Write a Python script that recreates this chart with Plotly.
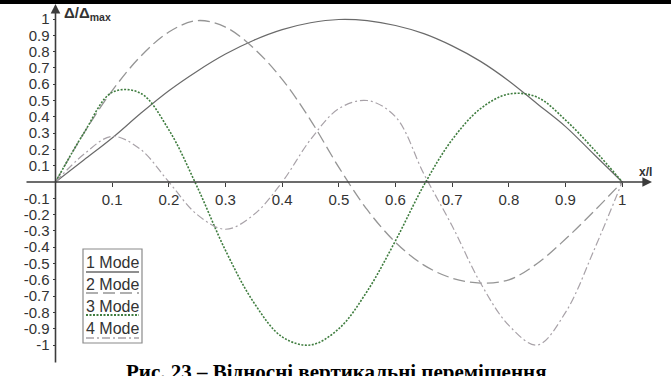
import plotly.graph_objects as go

# Relative coordinate along the span
x_pos = [0.0, 0.05, 0.10, 0.15, 0.20, 0.25, 0.30, 0.35, 0.40, 0.45, 0.50,
         0.55, 0.60, 0.65, 0.70, 0.75, 0.80, 0.85, 0.90, 0.95, 1.0]

# Relative vertical displacements of the first four modes
mode_1 = [0.0, 0.135, 0.27, 0.42, 0.56, 0.68, 0.785, 0.87, 0.935, 0.977, 0.997,
          0.99, 0.96, 0.91, 0.835, 0.74, 0.62, 0.48, 0.34, 0.17, 0.0]
mode_2 = [0.0, 0.30, 0.56, 0.77, 0.92, 0.99, 0.95, 0.82, 0.63, 0.38, 0.09,
          -0.17, -0.37, -0.51, -0.59, -0.62, -0.60, -0.50, -0.35, -0.18, 0.0]
mode_3 = [0.0, 0.30, 0.55, 0.545, 0.32, -0.03, -0.42, -0.74, -0.95, -1.0, -0.90,
          -0.67, -0.36, -0.02, 0.26, 0.45, 0.54, 0.52, 0.38, 0.20, 0.0]
mode_4 = [0.0, 0.17, 0.28, 0.20, 0.0, -0.20, -0.29, -0.20, 0.0, 0.26, 0.45,
          0.50, 0.40, 0.05, -0.27, -0.62, -0.88, -1.0, -0.80, -0.42, 0.0]

mode_names = ["1 Mode", "2 Mode", "3 Mode", "4 Mode"]
x_ticks = [0.1, 0.2, 0.3, 0.4, 0.5, 0.6, 0.7, 0.8, 0.9, 1.0]
y_ticks = [1.0, 0.9, 0.8, 0.7, 0.6, 0.5, 0.4, 0.3, 0.2, 0.1,
           -0.1, -0.2, -0.3, -0.4, -0.5, -0.6, -0.7, -0.8, -0.9, -1.0]

W, H = 671, 376
X0, XS = 55.5, 566.7     # pixel of x=0, pixels per unit x
Y0, YS = 182.0, 163.0    # pixel of y=0, pixels per unit y


def px(v):
    return v / W


def py(v):
    return 1 - v / H


styles = [
    dict(color="#6a6a6a", width=1.2, dash="solid"),
    dict(color="#959595", width=1.3, dash="12px,5px"),
    dict(color="#3f7d3f", width=1.6, dash="2px,1.5px"),
    dict(color="#a8a2a8", width=1.2, dash="8px,3px,2px,3px"),
]

fig = go.Figure()
for name, ys, st in zip(mode_names, [mode_1, mode_2, mode_3, mode_4], styles):
    fig.add_trace(go.Scatter(x=x_pos, y=ys, mode="lines", name=name,
                             line=dict(shape="spline", smoothing=1.0, **st),
                             showlegend=False, hoverinfo="skip"))

axis_col = "#3c3c3c"
sans = "Arial, Liberation Sans, sans-serif"
tick_font = dict(family=sans, size=15, color="#333333")

fig.update_layout(
    width=W, height=H,
    margin=dict(l=0, r=0, t=0, b=0),
    paper_bgcolor="white", plot_bgcolor="white",
    xaxis=dict(range=[-X0 / XS, (W - X0) / XS], showgrid=False, zeroline=False,
               showline=False, anchor="free", position=1 - Y0 / H,
               tickvals=x_ticks, ticktext=[f"{v:g}" for v in x_ticks],
               ticks="outside", ticklen=4, tickcolor=axis_col, tickwidth=1,
               tickfont=tick_font),
    yaxis=dict(range=[-(H - Y0) / YS, Y0 / YS], showgrid=False, zeroline=False,
               showline=False, anchor="free", position=X0 / W,
               tickvals=y_ticks, ticktext=[f"{v:g}" for v in y_ticks],
               ticks="outside", ticklen=3, tickcolor=axis_col, tickwidth=1,
               tickfont=tick_font),
)

# Axis lines with arrowheads
fig.add_annotation(x=(652 - X0) / XS, y=0, ax=(25 - X0) / XS, ay=0,
                   xref="x", yref="y", axref="x", ayref="y", text="",
                   showarrow=True, arrowhead=2, arrowsize=1.2, arrowwidth=1.6,
                   arrowcolor=axis_col)
fig.add_annotation(x=0, y=(Y0 - 4) / YS, ax=0, ay=(Y0 - 364) / YS,
                   xref="x", yref="y", axref="x", ayref="y", text="",
                   showarrow=True, arrowhead=2, arrowsize=1.2, arrowwidth=1.6,
                   arrowcolor=axis_col)

# Axis titles
fig.add_annotation(x=px(62), y=py(2), xref="paper", yref="paper",
                   xanchor="left", yanchor="top", showarrow=False,
                   text="<b>Δ/Δ<sub>max</sub></b>",
                   font=dict(family=sans, size=15, color="#333333"))
fig.add_annotation(x=px(645), y=py(172), xref="paper", yref="paper",
                   xanchor="center", yanchor="middle", showarrow=False,
                   text="<b>x/l</b>",
                   font=dict(family=sans, size=12, color="#333333"))

# Legend box: label above a sample of each line style
fig.add_shape(type="rect", xref="paper", yref="paper",
              x0=px(83), x1=px(142), y0=py(343), y1=py(249),
              line=dict(color="#8a8a8a", width=1.2), fillcolor="white")
label_rows = [262, 284, 306, 328]
line_rows = [272, 293, 315, 338]
for name, st, ly, ry in zip(mode_names, styles, label_rows, line_rows):
    fig.add_annotation(x=px(112), y=py(ly), xref="paper", yref="paper",
                       xanchor="center", yanchor="middle", showarrow=False,
                       text=name, font=dict(family=sans, size=16, color="#333333"))
    fig.add_shape(type="line", xref="paper", yref="paper",
                  x0=px(86), x1=px(139), y0=py(ry), y1=py(ry),
                  line=dict(color=st["color"], width=st["width"] + 0.2, dash=st["dash"]))

# Page rule at the top and the figure caption below
fig.add_shape(type="rect", xref="paper", yref="paper",
              x0=0, x1=1, y0=py(4), y1=1, line=dict(width=0), fillcolor="black")
fig.add_annotation(x=px(336), y=py(358), xref="paper", yref="paper",
                   xanchor="center", yanchor="top", showarrow=False,
                   text="<b>Рис. 23 – Відносні вертикальні переміщення</b>",
                   font=dict(family="Liberation Serif, Times New Roman, serif",
                             size=21, color="black"))

fig.write_html("out.html")
